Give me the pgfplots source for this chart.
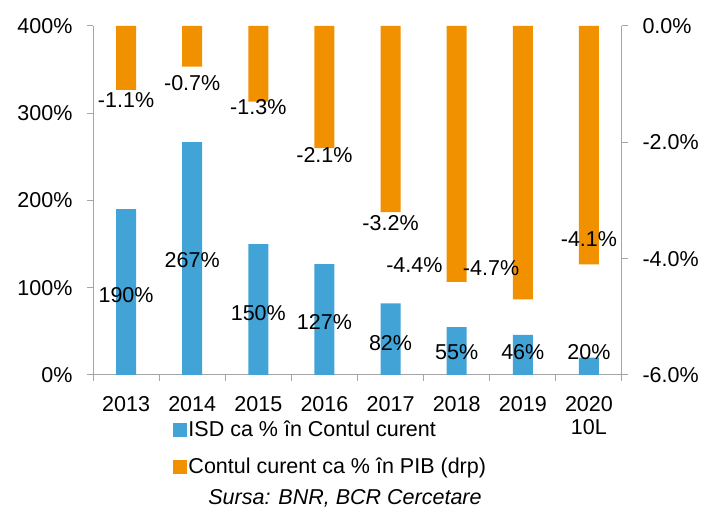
\documentclass[border=0pt]{standalone}
\usepackage{fontspec}
\setmainfont{Liberation Sans}
\usepackage{pgfplots}
\pgfplotsset{compat=1.18}
\definecolor{isd}{RGB}{65,163,214}
\definecolor{cc}{RGB}{242,145,0}
\definecolor{axgray}{RGB}{165,165,165}
\newcommand\fs{\fontsize{21.5}{23}\selectfont}
\begin{document}
\begin{tikzpicture}
\useasboundingbox (0,0) rectangle (707pt,508pt);
\begin{axis}[
  at={(93pt,133pt)}, anchor=south west,
  scale only axis, width=529pt, height=349pt,
  xmin=-0.5, xmax=7.5, ymin=0, ymax=400,
  axis x line*=bottom, axis y line*=left,
  axis line style={draw=axgray, line width=1pt, -},
  tick style={draw=axgray, line width=1pt},
  tick align=outside,
  major tick length=6pt, minor tick length=6pt,
  xtick={0,...,7},
  xticklabels={2013,2014,2015,2016,2017,2018,2019,{2020\\10L}},
  major x tick style={draw=none},
  minor xtick={-0.5,0.5,1.5,2.5,3.5,4.5,5.5,6.5,7.5},
  xticklabel style={font=\fs, align=center, yshift=-12pt},
  ytick={0,100,200,300,400},
  yticklabels={0\%,100\%,200\%,300\%,400\%},
  yticklabel style={font=\fs, xshift=-11pt},
  /pgf/number format/assume math mode=true,
  ybar, bar width=20pt, bar shift=0pt,
  legend style={at={(axis description cs:0.151,-0.125)}, anchor=north west,
    draw=none, fill=none, font=\fs, inner sep=0pt, row sep=16pt,
    /tikz/every odd column/.append style={column sep=0pt}},
  legend cell align=left,
  clip=false,
]
\addplot[fill=isd, draw=none, forget plot] coordinates {
  (0,190) (1,267) (2,150) (3,127) (4,82) (5,55) (6,46) (7,20)};
\addlegendimage{legend image code/.code={\fill[isd] (0pt,-7pt) rectangle (13pt,6pt);}}
\addlegendentry{ISD ca \% în Contul curent}
\addlegendimage{legend image code/.code={\fill[cc] (0pt,-7pt) rectangle (13pt,6pt);}}
\addlegendentry{Contul curent ca \% în PIB (drp)}
\node[font=\fs] at (axis cs:0,91.7) {190\%};
\node[font=\fs] at (axis cs:1,131.8) {267\%};
\node[font=\fs] at (axis cs:2,71) {150\%};
\node[font=\fs] at (axis cs:3,60.7) {127\%};
\node[font=\fs] at (axis cs:4,36.7) {82\%};
\node[font=\fs] at (axis cs:5,26.4) {55\%};
\node[font=\fs] at (axis cs:6,26.4) {46\%};
\node[font=\fs] at (axis cs:7,26.4) {20\%};
\end{axis}
\begin{axis}[
  at={(93pt,133pt)}, anchor=south west,
  scale only axis, width=529pt, height=349pt,
  xmin=-0.5, xmax=7.5, ymin=-6, ymax=0,
  axis x line=none, axis y line*=right,
  axis line style={draw=axgray, line width=1pt, -},
  tick style={draw=axgray, line width=1pt},
  tick align=outside,
  major tick length=6pt,
  ytick={-6,-4,-2,0},
  yticklabels={-6.0\%,-4.0\%,-2.0\%,0.0\%},
  yticklabel style={font=\fs, xshift=11pt},
  /pgf/number format/assume math mode=true,
  ybar, bar width=20pt, bar shift=0pt,
  clip=false,
]
\addplot[fill=cc, draw=none] coordinates {
  (0,-1.1) (1,-0.7) (2,-1.3) (3,-2.1) (4,-3.2) (5,-4.4) (6,-4.7) (7,-4.1)};
\node[font=\fs] at (axis cs:0,-1.27) {-1.1\%};
\node[font=\fs] at (axis cs:1,-0.98) {-0.7\%};
\node[font=\fs] at (axis cs:2,-1.39) {-1.3\%};
\node[font=\fs] at (axis cs:3,-2.22) {-2.1\%};
\node[font=\fs] at (axis cs:4,-3.39) {-3.2\%};
\node[font=\fs] at (axis cs:4.36,-4.11) {-4.4\%};
\node[font=\fs] at (axis cs:5.52,-4.16) {-4.7\%};
\node[font=\fs] at (axis cs:7,-3.66) {-4.1\%};
\end{axis}
\node[font=\fs\itshape, anchor=base] at (345pt,3.5pt) {Sursa: BNR, BCR Cercetare};
\end{tikzpicture}
\end{document}
